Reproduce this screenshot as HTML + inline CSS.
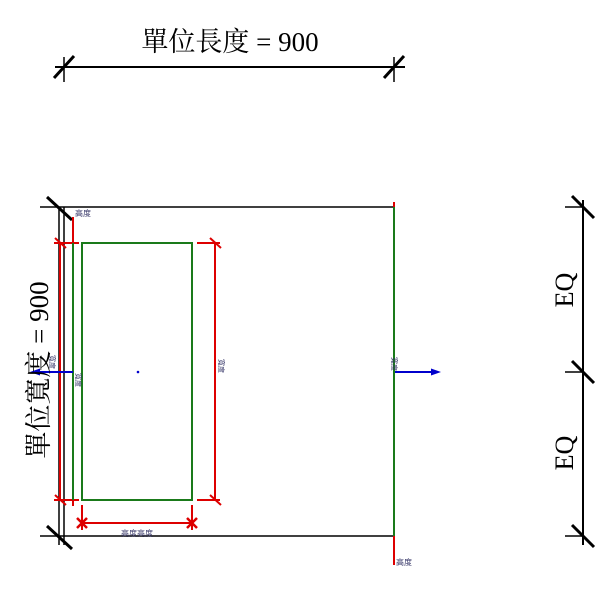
<!DOCTYPE html>
<html><head><meta charset="utf-8"><style>html,body{margin:0;padding:0;background:#fff}svg{display:block}</style></head>
<body>
<svg width="600" height="600" viewBox="0 0 600 600" xmlns="http://www.w3.org/2000/svg" font-family="'Liberation Serif','Noto Serif CJK SC',serif">
<!-- top dimension -->
<line x1="55" y1="67" x2="405" y2="67" stroke="#000" stroke-width="2"/>
<line x1="64" y1="57" x2="64" y2="82" stroke="#000" stroke-width="1.5"/>
<line x1="394" y1="57" x2="394" y2="82" stroke="#000" stroke-width="1.5"/>
<line x1="54" y1="78" x2="74" y2="56" stroke="#000" stroke-width="3"/>
<line x1="384" y1="78" x2="404" y2="56" stroke="#000" stroke-width="3"/>
<text x="230" y="51" font-size="27" text-anchor="middle">單位長度 = 900</text>

<!-- box black -->
<line x1="40" y1="207" x2="394" y2="207" stroke="#000" stroke-width="1.5"/>
<line x1="40" y1="536" x2="394" y2="536" stroke="#000" stroke-width="1.5"/>
<line x1="59" y1="207" x2="59" y2="545" stroke="#000" stroke-width="1.5"/>
<line x1="64" y1="207" x2="64" y2="545" stroke="#000" stroke-width="1.5"/>
<line x1="47" y1="197" x2="72" y2="220" stroke="#000" stroke-width="3"/>
<line x1="47" y1="526" x2="72" y2="549" stroke="#000" stroke-width="3"/>

<!-- red left -->
<line x1="60" y1="243" x2="60" y2="500" stroke="#d00" stroke-width="2"/>
<line x1="73" y1="217" x2="73" y2="243" stroke="#d00" stroke-width="2"/>
<line x1="54" y1="243" x2="79" y2="243" stroke="#d00" stroke-width="2"/>
<line x1="54" y1="500" x2="79" y2="500" stroke="#d00" stroke-width="2"/>
<line x1="55" y1="238" x2="66" y2="248" stroke="#d00" stroke-width="2"/>
<line x1="55" y1="495" x2="66" y2="505" stroke="#d00" stroke-width="2"/>
<line x1="73" y1="500" x2="73" y2="506" stroke="#d00" stroke-width="2"/>
<!-- green -->
<line x1="73" y1="243" x2="73" y2="500" stroke="#1a7a1a" stroke-width="2"/>
<rect x="82" y="243" width="110" height="257" fill="none" stroke="#1a7a1a" stroke-width="2"/>
<!-- red right dim -->
<line x1="215" y1="243" x2="215" y2="500" stroke="#d00" stroke-width="2"/>
<line x1="197" y1="243" x2="220" y2="243" stroke="#d00" stroke-width="2"/>
<line x1="197" y1="500" x2="220" y2="500" stroke="#d00" stroke-width="2"/>
<line x1="210" y1="238" x2="221" y2="248" stroke="#d00" stroke-width="2"/>
<line x1="210" y1="495" x2="221" y2="505" stroke="#d00" stroke-width="2"/>
<!-- red bottom dim -->
<line x1="82" y1="523" x2="192" y2="523" stroke="#d00" stroke-width="2"/>
<line x1="82" y1="505" x2="82" y2="530" stroke="#d00" stroke-width="2"/>
<line x1="192" y1="505" x2="192" y2="530" stroke="#d00" stroke-width="2"/>
<path d="M77 518 L87 528 M87 518 L77 528 M187 518 L197 528 M197 518 L187 528" stroke="#d00" stroke-width="2.5"/>
<text x="137" y="536" font-size="8" fill="#336" text-anchor="middle" font-family="'Noto Sans CJK TC',sans-serif">高度高度</text>
<text x="75" y="216" font-size="8" fill="#336" font-family="'Noto Sans CJK TC',sans-serif">高度</text>

<!-- right green -->
<line x1="394" y1="202" x2="394" y2="207" stroke="#d00" stroke-width="2"/>
<line x1="394" y1="207" x2="394" y2="536" stroke="#1a7a1a" stroke-width="2"/>
<line x1="394" y1="536" x2="394" y2="565" stroke="#d00" stroke-width="2"/>
<text x="396" y="565" font-size="8" fill="#336" font-family="'Noto Sans CJK TC',sans-serif">高度</text>
<line x1="395" y1="372" x2="432" y2="372" stroke="#00c" stroke-width="2"/>
<polygon points="441,372 431,368.5 431,375.5" fill="#00c"/>
<text transform="translate(392,364) rotate(90)" font-size="7" fill="#336" text-anchor="middle" font-family="'Noto Sans CJK TC',sans-serif">寬度</text>
<text transform="translate(219,366) rotate(90)" font-size="7" fill="#336" text-anchor="middle" font-family="'Noto Sans CJK TC',sans-serif">寬度</text>
<text transform="translate(50,362) rotate(90)" font-size="7" fill="#336" text-anchor="middle" font-family="'Noto Sans CJK TC',sans-serif">寬度</text>
<text transform="translate(76,380) rotate(90)" font-size="7" fill="#336" text-anchor="middle" font-family="'Noto Sans CJK TC',sans-serif">寬度</text>

<!-- left blue arrow -->
<line x1="38" y1="372" x2="73" y2="372" stroke="#00c" stroke-width="2"/>
<polygon points="30,372 40,368.5 40,375.5" fill="#00c"/>
<circle cx="138" cy="372" r="1.3" fill="#00c"/>

<text transform="translate(48,370) rotate(-90)" font-size="27" text-anchor="middle">單位寬度 = 900</text>

<!-- EQ dimension -->
<line x1="583" y1="200" x2="583" y2="545" stroke="#000" stroke-width="2"/>
<line x1="565" y1="207" x2="583" y2="207" stroke="#000" stroke-width="1.5"/>
<line x1="565" y1="372" x2="583" y2="372" stroke="#000" stroke-width="1.5"/>
<line x1="565" y1="536" x2="583" y2="536" stroke="#000" stroke-width="1.5"/>
<line x1="572" y1="196" x2="594" y2="218" stroke="#000" stroke-width="3"/>
<line x1="572" y1="361" x2="594" y2="383" stroke="#000" stroke-width="3"/>
<line x1="572" y1="525" x2="594" y2="547" stroke="#000" stroke-width="3"/>
<text transform="translate(573,290) rotate(-90)" font-size="26" text-anchor="middle">EQ</text>
<text transform="translate(573,453) rotate(-90)" font-size="26" text-anchor="middle">EQ</text>
</svg>
</body></html>
